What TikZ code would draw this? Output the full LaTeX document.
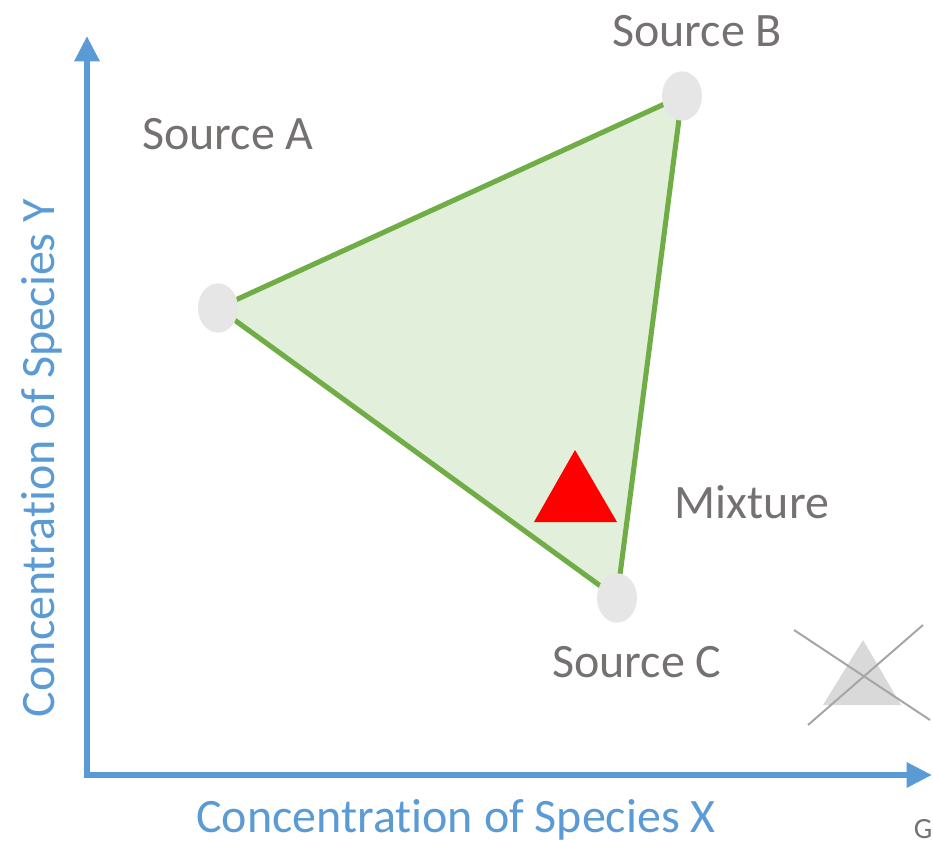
\documentclass[tikz,border=0pt]{standalone}
\usepackage{fontspec}
\setmainfont[Ligatures=NoCommon]{Carlito}
\usetikzlibrary{shapes.geometric,arrows.meta}
\definecolor{axisblue}{HTML}{5B9BD5}
\definecolor{tgreen}{HTML}{70AD47}
\definecolor{tfill}{HTML}{E2EFDA}
\definecolor{dotgray}{HTML}{E7E6E6}
\definecolor{txtgray}{HTML}{767171}
\definecolor{markgray}{HTML}{D9D9D9}
\definecolor{crossgray}{HTML}{A6A6A6}
\tikzset{
  src/.style={ellipse, fill=dotgray, minimum width=30pt, minimum height=37pt, inner sep=0pt},
  lbl/.style={text=txtgray, font=\fontsize{36}{40}\selectfont, inner sep=0pt},
  axlbl/.style={text=axisblue, font=\fontsize{36}{40}\selectfont, inner sep=0pt},
  axis/.style={draw=axisblue, line width=4.5pt, -{Triangle[length=19pt,width=18pt]}},
  edge/.style={draw=tgreen, line width=3.8pt},
}
\begin{document}
\begin{tikzpicture}[x=0.75pt,y=-0.75pt]
\useasboundingbox (0,0) rectangle (933,842);
% axes
\coordinate (O) at (87,775);
\coordinate (Ytip) at (87,36);
\coordinate (Xtip) at (932,775);
\draw[axis] ([yshift=-2.25pt]O) -- (Ytip);
\draw[axis] ([xshift=-2.25pt]O) -- (Xtip);
% source coordinates
\coordinate (pA) at (218,308);
\coordinate (pB) at (682,96);
\coordinate (pC) at (617,598);
\fill[tfill] (pA) -- (pB) -- (pC) -- cycle;
\draw[edge] (pA) -- (pB);
\draw[edge] (pB) -- (pC);
\draw[edge] (pC) -- (pA);
\node[src] (A) at (pA) {};
\node[src] (B) at (pB) {};
\node[src] (C) at (pC) {};
% mixture
\fill[red] (575,450) -- (617,522) -- (534,522) -- cycle;
% crossed gray triangle
\fill[markgray] (863,640) -- (901,705) -- (823,705) -- cycle;
\draw[crossgray, line width=1.5pt] (794,630) -- (930,720);
\draw[crossgray, line width=1.5pt] (923,625) -- (808,725);
% labels
\node[lbl] (lB) at (697,31) {Source B};
\node[lbl] (lA) at (228,134) {Source A};
\node[lbl] (lM) at (752,502) {Mixture};
\node[lbl] (lC) at (637,662) {Source C};
\node[axlbl] (lX) at (456,820) {Concentration of Species X};
\node[axlbl, rotate=90] (lY) at (42,458) {Concentration of Species Y};
\node[text=txtgray, font=\fontsize{22}{24}\selectfont, inner sep=0pt] (G) at (923,829) {G};
\end{tikzpicture}
\end{document}
